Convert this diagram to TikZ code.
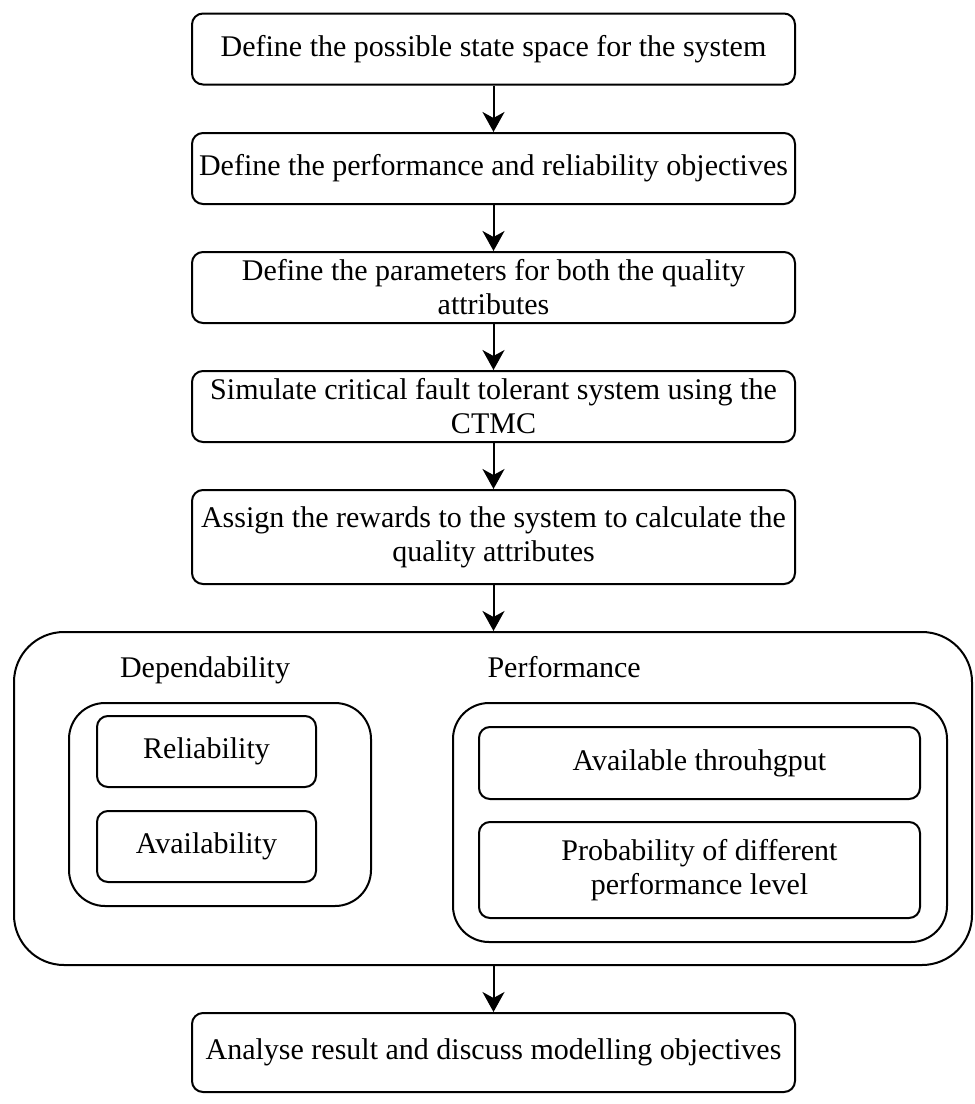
\documentclass[tikz,border=0pt]{standalone}
\usepackage{fontspec}
\setmainfont{Liberation Serif}
\usetikzlibrary{arrows.meta}
\begin{document}
\begin{tikzpicture}[x=1pt,y=-1pt,
  txt/.style={font=\fontsize{30}{34}\selectfont},
  box/.style={draw, line width=2pt, align=center, inner sep=0pt, txt},
  stepbox/.style={box, rounded corners=11pt, minimum width=603pt, minimum height=71pt},
  subbox/.style={box, rounded corners=11pt},
  groupbox/.style={draw, line width=2pt, rounded corners=36pt},
  flow/.style={line width=2pt, -{Stealth[length=20pt,width=22pt,inset=6pt]}}]
  \useasboundingbox (0,0) rectangle (975,1104);

  % main sequence of steps
  \node[stepbox] (s1) at (493.5,49) {Define the possible state space for the system};
  \node[stepbox] (s2) at (493.5,168.5) {Define the performance and reliability objectives};
  \node[stepbox] (s3) at (493.5,287.5) {Define the parameters for both the quality\\attributes};
  \node[stepbox] (s4) at (493.5,406.5) {Simulate critical fault tolerant system using the\\CTMC};
  \node[stepbox, minimum height=94pt] (s5) at (493.5,537) {Assign the rewards to the system to calculate the\\quality attributes};

  % quality attributes container
  \node[draw, line width=2pt, rounded corners=50pt, minimum width=958pt, minimum height=333pt] (qa) at (493,798.5) {};
  \node[txt, anchor=base] (deplbl) at (205,677) {Dependability};
  \node[txt, anchor=base west] (perflbl) at (484,677) {Performance};

  \node[groupbox, minimum width=302pt, minimum height=203pt] (dep) at (220,804.5) {};
  \node[subbox, minimum width=219pt, minimum height=71pt] (rel) at (206.5,751.5) {Reliability};
  \node[subbox, minimum width=219pt, minimum height=71pt] (avl) at (206.5,846.5) {Availability};

  \node[groupbox, minimum width=494pt, minimum height=239pt] (perf) at (700,822.5) {};
  \node[subbox, minimum width=441pt, minimum height=72pt] (thr) at (699.5,763) {Available throuhgput};
  \node[subbox, minimum width=441pt, minimum height=96pt] (prob) at (699.5,870) {Probability of different\\performance level};

  % final step
  \node[stepbox, minimum height=79pt] (s6) at (493.5,1052.5) {Analyse result and discuss modelling objectives};

  % connectors
  \draw[flow] (s1.south) -- (s2.north);
  \draw[flow] (s2.south) -- (s3.north);
  \draw[flow] (s3.south) -- (s4.north);
  \draw[flow] (s4.south) -- (s5.north);
  \draw[flow] (s5.south) -- (s5.south |- qa.north);
  \draw[flow] (s5.south |- qa.south) -- (s6.north);
\end{tikzpicture}
\end{document}
